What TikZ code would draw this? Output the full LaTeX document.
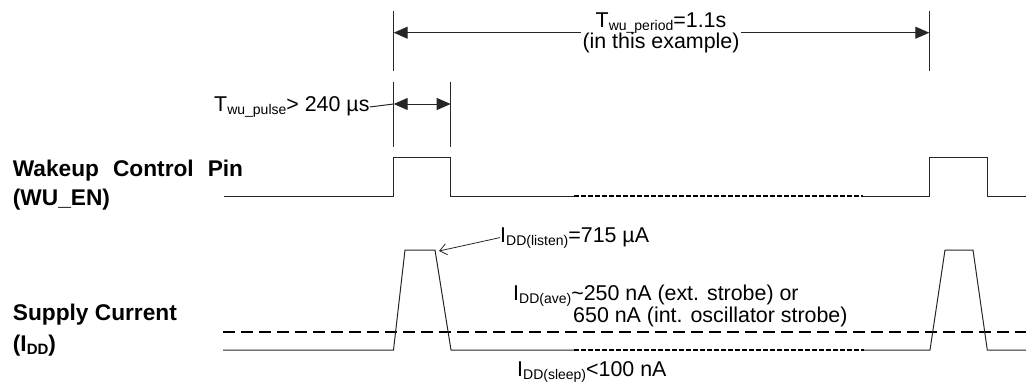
\documentclass[tikz,border=0pt]{standalone}
\usepackage{fontspec}
\setmainfont{Liberation Sans}
\usetikzlibrary{arrows.meta}
\newcommand{\lo}[1]{\raisebox{-3pt}{\fontsize{14}{14}\selectfont #1}}
\newcommand{\lobf}[1]{\raisebox{-3pt}{\fontsize{15}{15}\selectfont\bfseries #1}}

\begin{document}
\begin{tikzpicture}[x=1pt,y=-1pt,>={Triangle[length=14pt,width=12pt]},
	sig/.style={line width=1pt,black!85},
	guide/.style={line width=1pt,black!85},
	avg/.style={line width=2pt,dash pattern=on 12pt off 6pt},
	fine/.style={line width=1.5pt,dash pattern=on 4.5pt off 2.5pt},
	lbl/.style={inner sep=0pt,font=\fontsize{21.4}{21.6}\selectfont},
	head/.style={inner sep=0pt,align=left,font=\fontsize{22.7}{#1}\selectfont\bfseries}]
\useasboundingbox (0,0) rectangle (1026,383);

\node[head=29.3,anchor=base west]   (wu)      at (12.7,205.3)	{Wakeup\hspace{14pt}Control\hspace{14pt}Pin\\(WU\_EN)};
 \node[head=31,anchor=base west] 	  (idd) at (12.7,351.7)  	{Supply Current\\(I\lobf{DD})};

	\node[lbl,align=center,fill=white,inner xsep=1.5pt]   (period) at (661,32.7)      {T\lo{wu\_period}=1.1s\\(in this example)};
	\node[lbl,anchor=base west]   (pulse) at (214,111.5)      {T\lo{wu\_pulse}> 240 µs};
		\node[lbl,anchor=base west]   (listen) at (500,242)      {I\lo{DD(listen)}=715 µA};
		\node[lbl,anchor=base west,align=left]   (ave) at (513,322)      {I\lo{DD(ave)}\textasciitilde 250 nA (ext. strobe) or\\\hspace*{60pt}650 nA (int. oscillator strobe)};
		\node[lbl,anchor=base west]   (sleep) at (517,376)      {I\lo{DD(sleep)}<100 nA};

\coordinate (a1) at (393.7,32.7);
\coordinate (a2) at (929.3,32.7);
\coordinate (b1) at (393.7,104);
\coordinate (b2) at (450.7,104);
\coordinate (top) at (439,251);

% guide lines
\draw[guide] (393.7,11) -- (393.7,71)  (929.3,11) -- (929.3,71);
\draw[guide] (393.7,81.7) -- (393.7,146.7)  (450.7,81.7) -- (450.7,146.7);

\path[draw,guide] (period.west) edge[->] (a1)
	(period.east) edge[->] (a2);
\path[draw,guide] (pulse.east) -- (b1)
	(b1) edge[<->] (b2);
\draw[guide,-{Straight Barb[length=7pt,width=11pt]},line width=0.8pt] (listen.west) -- (top);

% WU_EN
\draw[sig] (224,196) -- (393.7,196) -- (393.7,157.7) -- (450.7,157.7) -- (450.7,196) -- (574,196);
\draw[fine] (574,196) -- (863,196);
\draw[sig] (863,196) -- (929.3,196) -- (929.3,157.7) -- (987.3,157.7) -- (987.3,196) -- (1026,196);

% I_DD
\draw[avg] (223,332) -- (1026,332);
\draw[sig] (223,350) -- (393.5,350) -- (405,250) -- (435,250) -- (451,350) -- (574,350);
\draw[fine] (574,350) -- (864,350);
\draw[sig] (864,350) -- (930,350) -- (945,250) -- (973,250) -- (987.3,350) -- (1026,350);

\end{tikzpicture}
\end{document}
